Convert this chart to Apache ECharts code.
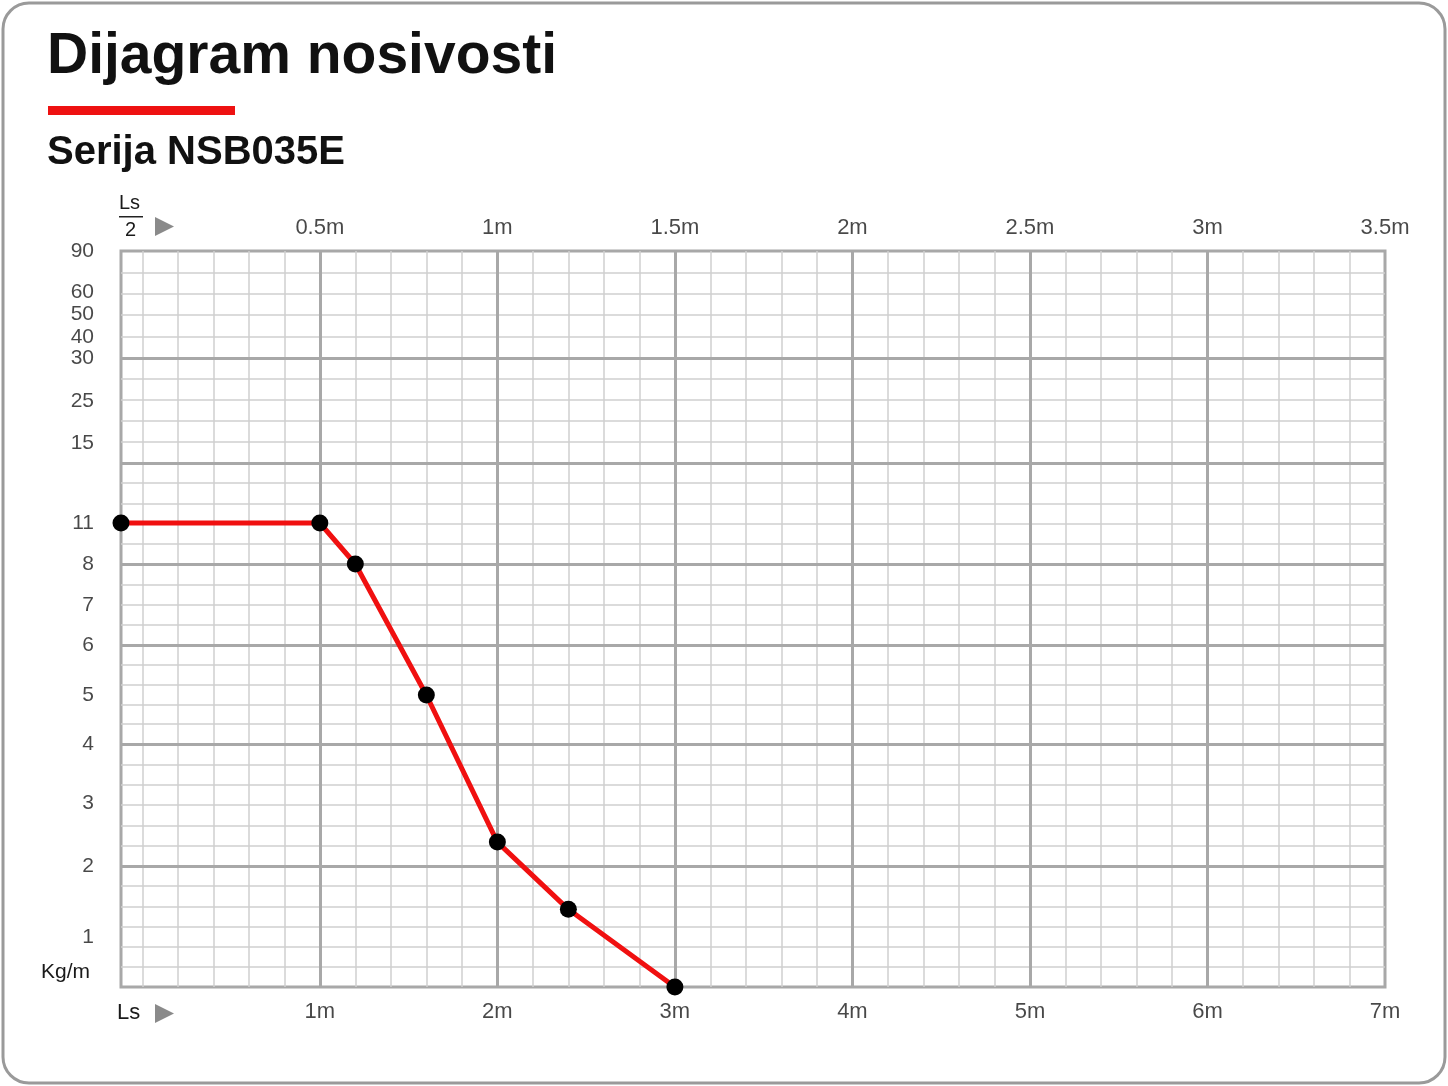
<!DOCTYPE html>
<html><head><meta charset="utf-8">
<script src="https://cdn.jsdelivr.net/npm/echarts@6/dist/echarts.min.js"></script>
<style>html,body{margin:0;padding:0;background:#fff}#c{width:1448px;height:1086px}</style>
</head><body><div id="c"></div>
<script>
// Data
const spanLs = [0, 1, 1.2, 1.6, 2, 2.4, 3];          // m
const loadKg = [11, 11, 8, 5, 2.38, 1.39, 0];        // kg/m
const bottomTicks = [1, 2, 3, 4, 5, 6, 7];           // m
const yTickValues = [1, 2, 3, 4, 5, 6, 7, 8, 11, 15, 25, 30, 40, 50, 60, 90];

// Scale of the printed diagram (diagram units)
const yScaleVals  = [0, 1, 2, 3, 4, 5, 6, 7, 8, 11, 15, 25, 30, 40, 50, 60, 90];
const yScaleUnits = [0, 50, 121, 184, 243, 292, 342, 382, 423, 464, 544, 586, 629, 650, 673, 695, 736];
const yMajorUnits = [0, 121, 243, 342, 423, 524, 629, 736];
const yMinorCount = [6, 6, 5, 4, 5, 5, 5];
function yU(v){
  for(let i=1;i<yScaleVals.length;i++){
    if(v<=yScaleVals[i]){const a=yScaleVals[i-1],b=yScaleVals[i];
      return yScaleUnits[i-1]+(v-a)/(b-a)*(yScaleUnits[i]-yScaleUnits[i-1]);}
  }
  return 736;
}
function xU(m){ return m<=1 ? m*1.12 : m+0.12; }
const XMAX = xU(7), YMAX = 736;

const minorLines=[], majorLines=[];
for(let k=0;k<=35;k++){ const u=0.12+0.2*k; if(u<XMAX-0.01) minorLines.push({xAxis:u}); }
bottomTicks.forEach(m=>{ if(m<7) majorLines.push({xAxis:xU(m)}); });
for(let s=0;s<yMinorCount.length;s++){
  const a=yMajorUnits[s], b=yMajorUnits[s+1], n=yMinorCount[s];
  for(let j=1;j<n;j++) minorLines.push({yAxis:a+(b-a)*j/n});
  if(s>0) majorLines.push({yAxis:a});
}

const lbl = {fontFamily:'Liberation Sans, Arial, sans-serif', color:'#1a1a1a'};
const chart = echarts.init(document.getElementById('c'));
chart.setOption({
  backgroundColor:'#fff',
  animation:false,
  grid:{left:121,right:63,top:251,bottom:99,show:true,borderColor:'#a8a8a8',borderWidth:3},
  xAxis:{type:'value',min:0,max:XMAX,axisLine:{show:false},axisTick:{show:false},axisLabel:{show:false},splitLine:{show:false}},
  yAxis:{type:'value',min:0,max:YMAX,axisLine:{show:false},axisTick:{show:false},axisLabel:{show:false},splitLine:{show:false}},
  graphic:[
    {type:'rect',shape:{x:3,y:3,width:1442,height:1080,r:26},style:{fill:'none',stroke:'#9a9a9a',lineWidth:3}},
    {type:'text',left:47,top:29,style:{text:'Dijagram nosivosti',font:'bold 57px Liberation Sans, Arial, sans-serif',fill:'#111'}},
    {type:'rect',shape:{x:48,y:106,width:187,height:9},style:{fill:'#ee1111'}},
    {type:'text',left:47,top:133,style:{text:'Serija NSB035E',font:'bold 40px Liberation Sans, Arial, sans-serif',fill:'#111'}},
    {type:'text',left:119,top:193,style:{text:'Ls',font:'20px Liberation Sans, Arial, sans-serif',fill:'#1a1a1a'}},
    {type:'rect',shape:{x:119,y:216,width:24,height:1.5},style:{fill:'#222'}},
    {type:'text',left:125,top:220,style:{text:'2',font:'20px Liberation Sans, Arial, sans-serif',fill:'#1a1a1a'}},
    {type:'polygon',shape:{points:[[155,217],[155,236],[174,226.5]]},style:{fill:'#8a8a8a'}},
    {type:'text',left:117,top:1002,style:{text:'Ls',font:'22px Liberation Sans, Arial, sans-serif',fill:'#1a1a1a'}},
    {type:'polygon',shape:{points:[[155,1004],[155,1023],[174,1013.5]]},style:{fill:'#8a8a8a'}},
    {type:'text',left:41,top:962,style:{text:'Kg/m',font:'21px Liberation Sans, Arial, sans-serif',fill:'#1a1a1a'}}
  ],
  series:[
    {type:'line',data:[],silent:true,
      markLine:{symbol:'none',silent:true,label:{show:false},lineStyle:{color:'#cfcfcf',width:1.5,type:'solid'},data:minorLines}},
    {type:'line',data:[],silent:true,
      markLine:{symbol:'none',silent:true,label:{show:false},lineStyle:{color:'#a8a8a8',width:3,type:'solid'},data:majorLines}},
    {type:'line',data:spanLs.map((m,i)=>[xU(m),yU(loadKg[i])]),z:10,
      lineStyle:{color:'#f01010',width:5},symbol:'circle',symbolSize:17,itemStyle:{color:'#000'}},
    {type:'scatter',clip:false,symbolSize:0,silent:true,
      data:yTickValues.map(v=>({value:[0,yU(v)],name:String(v)})),
      label:{show:true,position:'left',distance:27,fontSize:21,formatter:p=>p.name,...lbl}},
    {type:'scatter',clip:false,symbolSize:0,silent:true,
      data:bottomTicks.map(m=>({value:[xU(m),0],name:m+'m'})),
      label:{show:true,position:'bottom',distance:14,fontSize:22,formatter:p=>p.name,...lbl}},
    {type:'scatter',clip:false,symbolSize:0,silent:true,
      data:bottomTicks.map(m=>({value:[xU(m),YMAX],name:(m/2)+'m'})),
      label:{show:true,position:'top',distance:12,fontSize:22,formatter:p=>p.name,...lbl}}
  ]
});
</script></body></html>
